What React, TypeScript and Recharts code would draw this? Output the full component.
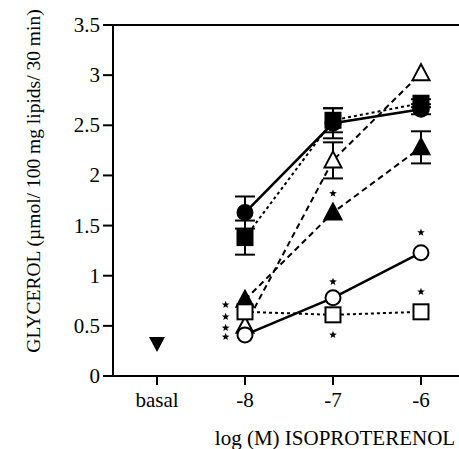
import React from "react"
import { ComposedChart, Line, Scatter, XAxis, YAxis, ErrorBar, ReferenceLine } from "recharts"

const DOSES = [-8, -7, -6]
const BASAL_X = -9
const BASAL = [0.32]

const FILLED_CIRCLE = [1.63, 2.52, 2.66]
const FILLED_CIRCLE_ERR = [0.16, 0.15, 0.05]
const FILLED_SQUARE = [1.38, 2.55, 2.72]
const FILLED_SQUARE_ERR = [0.17, 0.12, 0.04]
const OPEN_TRIANGLE = [0.5, 2.15, 3.02]
const OPEN_TRIANGLE_ERR = [null, 0.18, null]
const FILLED_TRIANGLE = [0.76, 1.63, 2.28]
const FILLED_TRIANGLE_ERR = [null, null, 0.16]
const OPEN_CIRCLE = [0.41, 0.78, 1.23]
const OPEN_SQUARE = [0.64, 0.61, 0.64]

// significance stars
const STAR_X = [-8.22, -8.22, -8.22, -8.22, -7, -7, -7, -6, -6]
const STAR_Y = [0.71, 0.59, 0.48, 0.39, 1.82, 0.94, 0.41, 1.43, 0.84]

const Y_TICKS = [0, 0.5, 1, 1.5, 2, 2.5, 3, 3.5]
const X_TICKS = [-9, -8, -7, -6]

const FONT = "'Liberation Serif', 'DejaVu Serif', serif"

const rows = DOSES.map((x, i) => ({
  x,
  fc: FILLED_CIRCLE[i],
  fcErr: FILLED_CIRCLE_ERR[i],
  fs: FILLED_SQUARE[i],
  fsErr: FILLED_SQUARE_ERR[i],
  ot: OPEN_TRIANGLE[i],
  otErr: OPEN_TRIANGLE_ERR[i],
  ft: FILLED_TRIANGLE[i],
  ftErr: FILLED_TRIANGLE_ERR[i],
  oc: OPEN_CIRCLE[i],
  os: OPEN_SQUARE[i],
}))
const basalRows = BASAL.map((v) => ({ x: BASAL_X, v }))
const starRows = STAR_X.map((x, i) => ({ x, v: STAR_Y[i] }))

const circle = (filled: boolean) => (p: any) =>
  p.cx == null ? <g key={p.index} /> : (
    <circle key={p.index} cx={p.cx} cy={p.cy} r={7.5} fill={filled ? "#000" : "#fff"} stroke="#000" strokeWidth={2} />
  )
const square = (filled: boolean) => (p: any) =>
  p.cx == null ? <g key={p.index} /> : (
    <rect key={p.index} x={p.cx - 7.5} y={p.cy - 7.5} width={15} height={15} fill={filled ? "#000" : "#fff"} stroke="#000" strokeWidth={2} />
  )
const triangle = (filled: boolean) => (p: any) =>
  p.cx == null ? <g key={p.index} /> : (
    <polygon
      key={p.index}
      points={`${p.cx},${p.cy - 9} ${p.cx - 8.5},${p.cy + 7} ${p.cx + 8.5},${p.cy + 7}`}
      fill={filled ? "#000" : "#fff"}
      stroke="#000"
      strokeWidth={2}
    />
  )
const downTriangle = (p: any) => (
  <polygon points={`${p.cx - 8},${p.cy - 7} ${p.cx + 8},${p.cy - 7} ${p.cx},${p.cy + 8}`} fill="#000" />
)
const star = (p: any) => {
  const pts: string[] = []
  for (let k = 0; k < 10; k++) {
    const r = k % 2 === 0 ? 4 : 1.7
    const a = -Math.PI / 2 + (k * Math.PI) / 5
    pts.push(`${p.cx + r * Math.cos(a)},${p.cy + r * Math.sin(a)}`)
  }
  return <polygon points={pts.join(" ")} fill="#000" />
}

const xTick = (p: any) => (
  <text x={p.x} y={p.y} dy={14} textAnchor="middle" fontFamily={FONT} fontSize={21} fill="#000">
    {p.payload.value === BASAL_X ? "basal" : String(p.payload.value)}
  </text>
)
const yTick = (p: any) => (
  <text x={p.x} y={p.y} dy={7} textAnchor="end" fontFamily={FONT} fontSize={21} fill="#000">
    {String(p.payload.value)}
  </text>
)

export default function App() {
  return (
    <div style={{ position: "absolute", left: 0, top: 0, width: 459, height: 449, fontFamily: FONT }}>
      <ComposedChart width={459} height={449} data={rows} margin={{ top: 25, right: 0, bottom: 0, left: 0 }}>
        <XAxis
          type="number"
          dataKey="x"
          domain={[-9.5, -5.568]}
          ticks={X_TICKS}
          height={73}
          tickSize={9}
          tickMargin={8}
          tick={xTick}
          axisLine={{ stroke: "#000", strokeWidth: 2 }}
          tickLine={{ stroke: "#000", strokeWidth: 2 }}
          allowDataOverflow
          label={{
            content: () => (
              <text x={335} y={445} textAnchor="middle" fontFamily={FONT} fontSize={21} fill="#000">
                log (M) ISOPROTERENOL
              </text>
            ),
          }}
        />
        <YAxis
          type="number"
          domain={[0, 3.5]}
          ticks={Y_TICKS}
          width={113}
          tickSize={10}
          tickMargin={3}
          tick={yTick}
          axisLine={{ stroke: "#000", strokeWidth: 2 }}
          tickLine={{ stroke: "#000", strokeWidth: 2 }}
          label={{
            content: () => (
              <text
                x={0}
                y={0}
                transform="translate(33,181) rotate(-90)"
                textAnchor="middle"
                dominantBaseline="central"
                fontFamily={FONT}
                fontSize={19.5}
                fill="#000"
              >
                GLYCEROL (µmol/ 100 mg lipids/ 30 min)
              </text>
            ),
          }}
        />
        <ReferenceLine y={3.5} stroke="#000" strokeWidth={2} />
        <Line dataKey="fc" stroke="#000" strokeWidth={2.5} dot={circle(true)} isAnimationActive={false}>
          <ErrorBar dataKey="fcErr" width={10} stroke="#000" strokeWidth={2} />
        </Line>
        <Line dataKey="fs" stroke="#000" strokeWidth={2} strokeDasharray="3 3" dot={square(true)} isAnimationActive={false}>
          <ErrorBar dataKey="fsErr" width={10} stroke="#000" strokeWidth={2} />
        </Line>
        <Line dataKey="ft" stroke="#000" strokeWidth={2} strokeDasharray="6 4" dot={triangle(true)} isAnimationActive={false}>
          <ErrorBar dataKey="ftErr" width={10} stroke="#000" strokeWidth={2} />
        </Line>
        <Line dataKey="ot" stroke="#000" strokeWidth={2} strokeDasharray="6 4" dot={triangle(false)} isAnimationActive={false}>
          <ErrorBar dataKey="otErr" width={10} stroke="#000" strokeWidth={2} />
        </Line>
        <Line dataKey="os" stroke="#000" strokeWidth={2} strokeDasharray="3 3" dot={square(false)} isAnimationActive={false} />
        <Line dataKey="oc" stroke="#000" strokeWidth={2.5} dot={circle(false)} isAnimationActive={false} />
        <Scatter data={basalRows} dataKey="v" fill="#000" shape={downTriangle} isAnimationActive={false} />
        <Scatter data={starRows} dataKey="v" fill="#000" shape={star} isAnimationActive={false} />
      </ComposedChart>
    </div>
  )
}
